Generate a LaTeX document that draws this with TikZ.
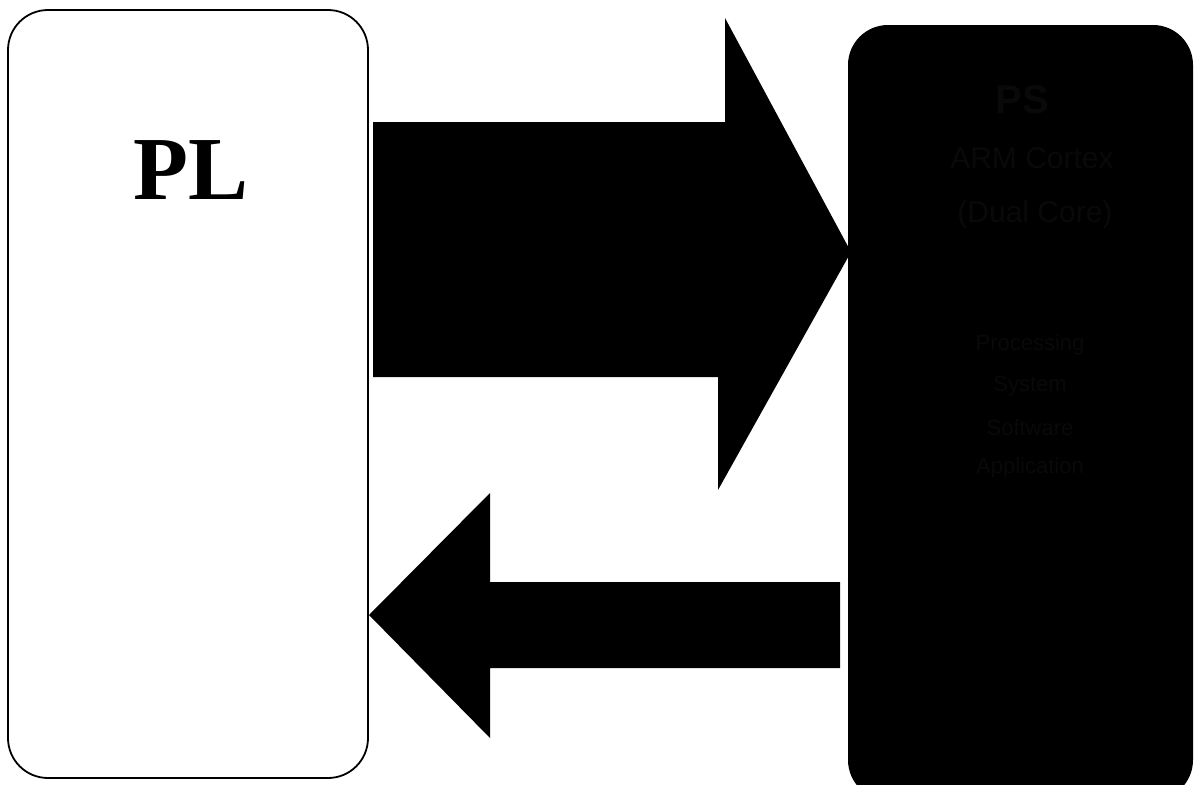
\documentclass[tikz,border=0pt]{standalone}
\usepackage{fontspec}
\setmainfont{Liberation Serif}
\setsansfont{Liberation Sans}
\definecolor{hidden}{rgb}{0.035,0.035,0.035}
\begin{document}
\begin{tikzpicture}[x=1pt,y=-1pt,
  blockbox/.style={draw=black,line width=1.8pt,rounded corners=40pt},
  blockarrow/.style={fill=black,draw=none},
  hiddentext/.style={text=hidden,font=\sffamily\fontsize{22}{26}\selectfont}]
\useasboundingbox (0,0) rectangle (1195,785);
% left box
\draw[blockbox,fill=white] (8,10) rectangle (368,778);
\node[font=\bfseries\fontsize{90}{92}\selectfont] (pl) at (191,170) {PL};
% right box
\fill[black,rounded corners=40pt] (848,25) rectangle (1193,800);
\node[text=hidden,font=\sffamily\bfseries\fontsize{40}{44}\selectfont] (ps) at (1022,100) {PS};
\node[hiddentext,font=\sffamily\fontsize{30}{34}\selectfont] (l2) at (1032,158) {ARM Cortex};
\node[hiddentext,font=\sffamily\fontsize{30}{34}\selectfont] (l3) at (1035,215) {(Dual Core)};
\node[hiddentext] (l4) at (1030,345) {Processing};
\node[hiddentext] (l5) at (1030,386) {System};
\node[hiddentext] (l6) at (1030,428) {Software};
\node[hiddentext] (l7) at (1030,468) {Application};
% right-pointing arrow
\fill[blockarrow] (373,122) -- (725,122) -- (725,18) -- (851,252) -- (718,490)
  -- (718,377) -- (373,377) -- cycle;
% left-pointing arrow
\fill[blockarrow] (840,582) -- (490,582) -- (490,493) -- (369,615) -- (490,738)
  -- (490,668) -- (840,668) -- cycle;
\end{tikzpicture}
\end{document}
